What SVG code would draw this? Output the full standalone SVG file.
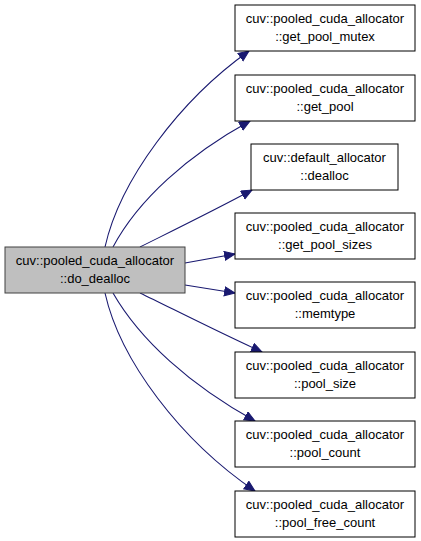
<svg xmlns="http://www.w3.org/2000/svg" width="421" height="541" viewBox="0 0 421 541">
<style>
.node rect{fill:#ffffff;stroke:#000000;stroke-width:1}
#main rect{fill:#bfbfbf;stroke:#404040}
text{font-family:"Liberation Sans",Arial,sans-serif;font-size:13px;fill:#000000;text-anchor:middle}
.edge{fill:none;stroke:#191970;stroke-width:1.1;marker-end:url(#ah)}
</style>
<defs>
<marker id="ah" markerUnits="userSpaceOnUse" markerWidth="13" markerHeight="11" refX="11" refY="5" orient="auto">
<path d="M0.5,0.5 L11,5 L0.5,9.5 Z" fill="#191970" stroke="#191970" stroke-width="1"/>
</marker>
</defs>
<g id="edges">
<path class="edge" d="M105,247 C120,180 180,100 249,51"/>
<path class="edge" d="M113,247 C138,200 188,155 250,121"/>
<path class="edge" d="M140,247 C170,232 215,210 252,190"/>
<path class="edge" d="M185,263 L235,254"/>
<path class="edge" d="M185,285 L235,293"/>
<path class="edge" d="M140,293 C175,310 220,333 262,352"/>
<path class="edge" d="M113,293 C140,340 190,385 255,421"/>
<path class="edge" d="M105,293 C120,360 180,440 255,491"/>
</g>
<g id="main" class="node"><rect x="5" y="247" width="180" height="46"/><text x="95" y="265">cuv::pooled_cuda_allocator</text><text x="95" y="283">::do_dealloc</text></g>
<g id="n1" class="node"><rect x="235" y="5" width="180" height="46"/><text x="325" y="23">cuv::pooled_cuda_allocator</text><text x="325" y="41">::get_pool_mutex</text></g>
<g id="n2" class="node"><rect x="235" y="75" width="180" height="46"/><text x="325" y="93">cuv::pooled_cuda_allocator</text><text x="325" y="111">::get_pool</text></g>
<g id="n3" class="node"><rect x="251" y="144" width="147" height="46"/><text x="324.5" y="162">cuv::default_allocator</text><text x="324.5" y="180">::dealloc</text></g>
<g id="n4" class="node"><rect x="235" y="213" width="180" height="46"/><text x="325" y="231">cuv::pooled_cuda_allocator</text><text x="325" y="249">::get_pool_sizes</text></g>
<g id="n5" class="node"><rect x="235" y="282" width="180" height="46"/><text x="325" y="300">cuv::pooled_cuda_allocator</text><text x="325" y="318">::memtype</text></g>
<g id="n6" class="node"><rect x="235" y="352" width="180" height="46"/><text x="325" y="370">cuv::pooled_cuda_allocator</text><text x="325" y="388">::pool_size</text></g>
<g id="n7" class="node"><rect x="235" y="421" width="180" height="46"/><text x="325" y="439">cuv::pooled_cuda_allocator</text><text x="325" y="457">::pool_count</text></g>
<g id="n8" class="node"><rect x="235" y="491" width="180" height="46"/><text x="325" y="509">cuv::pooled_cuda_allocator</text><text x="325" y="527">::pool_free_count</text></g>
</svg>
